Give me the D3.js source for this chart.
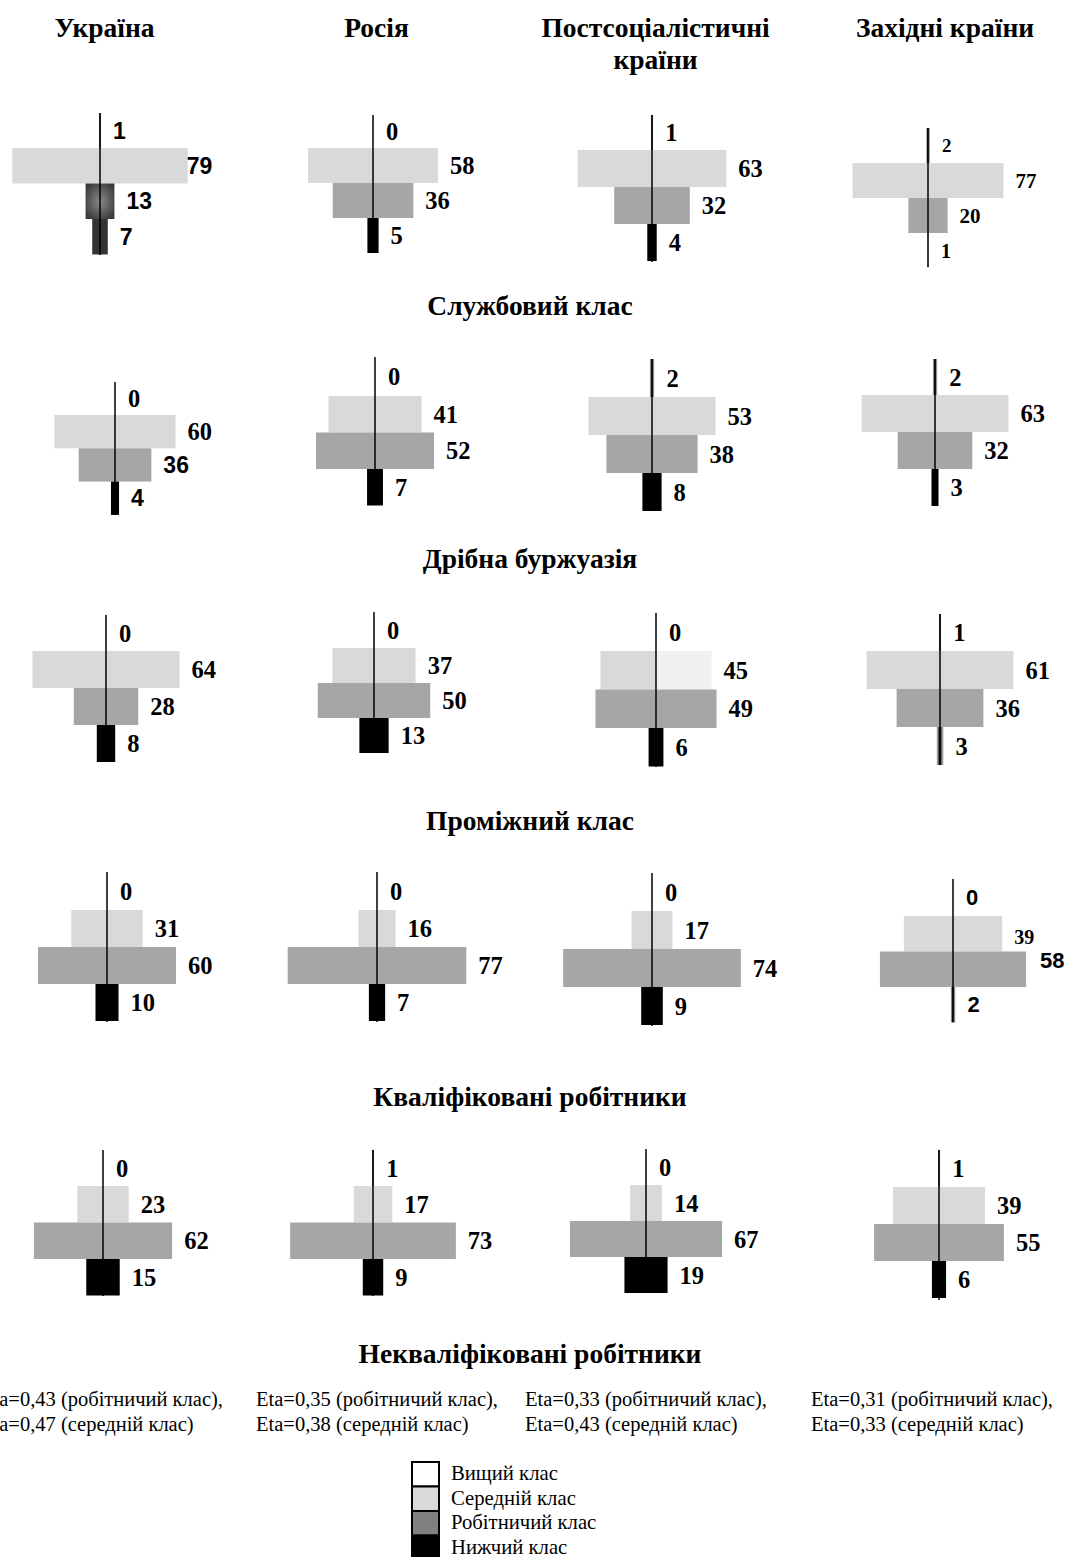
<!DOCTYPE html>
<html><head><meta charset="utf-8">
<script src="https://cdn.jsdelivr.net/npm/d3@7"></script>
<style>html,body{margin:0;padding:0;background:#fff;}svg{display:block;}</style>
</head><body>
<svg id="chart" width="1066" height="1557"></svg>
<script>
// ---------- DATA ----------
const countries = ["Україна", "Росія", "Постсоціалістичні|країни", "Західні країни"];
const groups = ["Службовий клас", "Дрібна буржуазія", "Проміжний клас", "Кваліфіковані робітники", "Некваліфіковані робітники"];
const classes = ["Вищий клас", "Середній клас", "Робітничий клас", "Нижчий клас"];
// values per country: [вищий, середній, робітничий, нижчий]
const serviceClass      = [[1, 79, 13, 7], [0, 58, 36, 5], [1, 63, 32, 4], [2, 77, 20, 1]];
const pettyBourgeoisie  = [[0, 60, 36, 4], [0, 41, 52, 7], [2, 53, 38, 8], [2, 63, 32, 3]];
const intermediateClass = [[0, 64, 28, 8], [0, 37, 50, 13], [0, 45, 49, 6], [1, 61, 36, 3]];
const skilledWorkers    = [[0, 31, 60, 10], [0, 16, 77, 7], [0, 17, 74, 9], [0, 39, 58, 2]];
const unskilledWorkers  = [[0, 23, 62, 15], [1, 17, 73, 9], [0, 14, 67, 19], [1, 39, 55, 6]];
const etaWorking = ["0,43", "0,35", "0,33", "0,31"];
const etaMiddle  = ["0,47", "0,38", "0,43", "0,33"];

const groupValues = [serviceClass, pettyBourgeoisie, intermediateClass, skilledWorkers, unskilledWorkers];

// ---------- LAYOUT (positions / sizes, separate from data) ----------
// per panel: cx, top of axis line, y0 = top of middle-class bar, bh = bar height, k = px per percent, bottom of line
const panelLayout = [
  [{cx:100,top:113,y0:148,bh:35.5,k:2.22,bot:255},{cx:373,top:115,y0:148,bh:35,k:2.24,bot:253},{cx:652,top:115,y0:150,bh:37,k:2.36,bot:262},{cx:928,top:128,y0:163,bh:35,k:1.96,bot:267}],
  [{cx:115,top:382,y0:415,bh:33.3,k:2.02,bot:515},{cx:375,top:357,y0:396,bh:36.5,k:2.27,bot:503},{cx:652,top:359,y0:397,bh:38,k:2.40,bot:511},{cx:935,top:359,y0:395,bh:37,k:2.33,bot:504}],
  [{cx:106,top:615,y0:651,bh:37,k:2.30,bot:762},{cx:374,top:612,y0:648,bh:35,k:2.25,bot:753},{cx:656,top:613,y0:651,bh:38.5,k:2.47,bot:767},{cx:940,top:614,y0:651,bh:38,k:2.41,bot:765}],
  [{cx:107,top:872,y0:910,bh:37,k:2.30,bot:1022},{cx:377,top:872,y0:910,bh:37,k:2.32,bot:1022},{cx:652,top:873,y0:911,bh:38,k:2.40,bot:1026},{cx:953,top:879,y0:916,bh:35.5,k:2.52,bot:1022}],
  [{cx:103,top:1150,y0:1186,bh:36.5,k:2.23,bot:1296},{cx:373,top:1150,y0:1186,bh:36.5,k:2.27,bot:1296},{cx:646,top:1149,y0:1185,bh:36,k:2.27,bot:1293},{cx:939,top:1150,y0:1187,bh:37,k:2.36,bot:1300}]
];
const colX = [104.5, 376.5, 655.5, 945];
const groupTitleY = [305, 558, 820, 1096, 1353];
const etaX = [-19, 256, 525, 811];

const SERIF = "'Liberation Serif','Times New Roman',serif";
const SANS = "'Liberation Sans',Arial,sans-serif";
const classFill = ["url(#thin)", "#d9d9d9", "#a6a6a6", "#000"];
const legendFill = ["#fff", "#d9d9d9", "#808080", "#000"];

// style overrides: [row, col, classIndex, props]
const labelOverrides = [
  [0,0,0,{font:SANS,size:23}],[0,0,1,{font:SANS,size:23,dx:-13}],[0,0,2,{font:SANS,size:23}],[0,0,3,{font:SANS,size:23}],
  [0,3,0,{size:19}],[0,3,1,{size:21}],[0,3,2,{size:21}],[0,3,3,{size:20}],
  [1,0,2,{font:SANS,size:23}],[1,0,3,{font:SANS,size:23}],
  [3,3,0,{font:SANS,size:22}],[3,3,1,{size:20,dy:3}],[3,3,2,{font:SANS,size:22,dx:2,dy:-9}],[3,3,3,{font:SANS,size:22}]
];
const fillOverrides = [
  [0,0,2,"url(#darkGrad)"],[0,0,3,"#333"],
  [0,3,3,"url(#thinLight)"],[2,3,3,"url(#thin)"],[3,3,3,"url(#thin)"],[2,2,1,"url(#halfLight)"]
];

// ---------- DRAW ----------
const svg = d3.select("#chart");
const defs = svg.append("defs");
const thin = defs.append("linearGradient").attr("id","thin");
thin.append("stop").attr("offset","0%").attr("stop-color","#e8e8e8");
thin.append("stop").attr("offset","45%").attr("stop-color","#111");
thin.append("stop").attr("offset","100%").attr("stop-color","#d0d0d0");
const thinL = defs.append("linearGradient").attr("id","thinLight");
thinL.append("stop").attr("offset","0%").attr("stop-color","#f4f4f4");
thinL.append("stop").attr("offset","50%").attr("stop-color","#bbb");
thinL.append("stop").attr("offset","100%").attr("stop-color","#f4f4f4");
const dg = defs.append("radialGradient").attr("id","darkGrad").attr("cx","50%").attr("cy","50%").attr("r","60%");
dg.append("stop").attr("offset","0%").attr("stop-color","#8a8a8a");
dg.append("stop").attr("offset","60%").attr("stop-color","#5a5a5a");
dg.append("stop").attr("offset","100%").attr("stop-color","#3a3a3a");
const halfG = defs.append("linearGradient").attr("id","halfLight");
halfG.append("stop").attr("offset","50%").attr("stop-color","#d9d9d9");
halfG.append("stop").attr("offset","50%").attr("stop-color","#f0f0f0");

// column headers
countries.forEach((c, i) => {
  const t = svg.append("text").attr("x", colX[i]).attr("y", 37)
    .attr("text-anchor","middle").attr("font-family", SERIF).attr("font-weight","bold")
    .attr("font-size", 27.5).attr("fill","#000");
  c.split("|").forEach((line, j) => {
    t.append("tspan").attr("x", colX[i]).attr("dy", j === 0 ? 0 : 32).text(line);
  });
});

groupValues.forEach((rowVals, r) => {
  rowVals.forEach((vals, c) => {
    const L = panelLayout[r][c];
    const g = svg.append("g");
    const w = d3.scaleLinear().domain([0, 100]).range([0, 100 * L.k]);
    const y = d3.scaleLinear().domain([1, 4]).range([L.y0, L.y0 + 3 * L.bh]);
    const barTop = i => i === 0 ? L.top : y(i);
    const barH = i => i === 0 ? (L.y0 - L.top) : L.bh;
    const fillOf = i => {
      const o = fillOverrides.find(f => f[0] === r && f[1] === c && f[2] === i);
      if (o) return o[3];
      if (i === 3 && vals[i] <= 2) return "url(#thin)";
      return classFill[i];
    };
    g.selectAll("rect.bar").data(vals).join("rect").attr("class","bar")
      .attr("x", d => L.cx - w(d) / 2)
      .attr("width", d => w(d))
      .attr("y", (d, i) => barTop(i))
      .attr("height", (d, i) => barH(i))
      .attr("fill", (d, i) => fillOf(i));
    // axis line
    g.append("line").attr("x1", L.cx).attr("x2", L.cx).attr("y1", L.top).attr("y2", L.bot)
      .attr("stroke","#000").attr("stroke-width",1.5);
    // labels
    g.selectAll("text.val").data(vals).join("text").attr("class","val")
      .each(function(d, i) {
        const o = (labelOverrides.find(f => f[0] === r && f[1] === c && f[2] === i) || [0,0,0,{}])[3];
        const hw = Math.max(w(d) / 2, 1);
        d3.select(this)
          .attr("x", L.cx + hw + 12 + (o.dx || 0))
          .attr("y", barTop(i) + barH(i) / 2 + (o.dy || 0))
          .attr("dy", "0.35em")
          .attr("font-family", o.font || SERIF)
          .attr("font-weight", "bold")
          .attr("font-size", o.size || 24.5)
          .attr("fill", "#000")
          .text(d);
      });
  });
  // group title
  svg.append("text").attr("x", 530).attr("y", groupTitleY[r]).attr("dy","0.35em")
    .attr("text-anchor","middle").attr("font-family", SERIF).attr("font-weight","bold")
    .attr("font-size", 27.5).attr("fill","#000").text(groups[r]);
});

// Eta notes (first column is clipped at the left edge, as in the original)
etaWorking.forEach((v, i) => {
  svg.append("text").attr("x", etaX[i]).attr("y", 1406).attr("font-family", SERIF).attr("font-size", 20.5)
    .attr("fill","#000").text(`Eta=${v} (робітничий клас),`);
  svg.append("text").attr("x", etaX[i]).attr("y", 1431).attr("font-family", SERIF).attr("font-size", 20.5)
    .attr("fill","#000").text(`Eta=${etaMiddle[i]} (середній клас)`);
});

// legend
const lg = svg.append("g");
const ly = d3.scaleBand().domain(classes).range([1462, 1560]).padding(0);
lg.selectAll("rect").data(classes).join("rect")
  .attr("x", 412).attr("width", 27)
  .attr("y", d => ly(d)).attr("height", ly.bandwidth())
  .attr("fill", (d, i) => legendFill[i]).attr("stroke","#000").attr("stroke-width",2);
lg.selectAll("text").data(classes).join("text")
  .attr("x", 451).attr("y", d => ly(d) + ly.bandwidth() / 2 - 1).attr("dy","0.35em")
  .attr("font-family", SERIF).attr("font-size", 20.7).attr("fill","#000").text(d => d);
</script>
</body></html>
